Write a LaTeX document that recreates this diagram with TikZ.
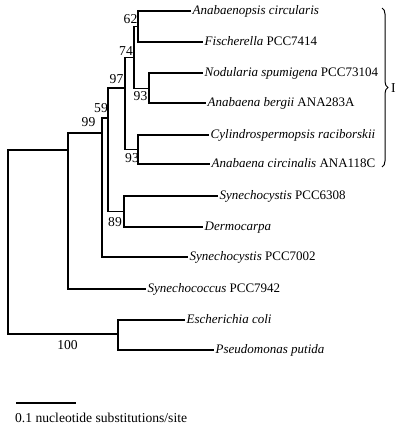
\documentclass[tikz,border=0pt]{standalone}
\usepackage{fontspec}
\setmainfont{Liberation Serif}
\usetikzlibrary{decorations.pathreplacing}
\begin{document}
\begin{tikzpicture}[x=1pt,y=-1pt,
  br/.style={line width=1.25pt},
  tip/.style={anchor=base west, yshift=-3.6pt, inner xsep=1.5pt, inner ysep=0pt, font=\fontsize{13}{16}\selectfont},
  bs/.style={inner sep=0pt, font=\fontsize{13.6}{16}\selectfont}]
\useasboundingbox (0,0) rectangle (400,428);
% internal nodes
\coordinate (root) at (8,242);
\coordinate (pCy) at (68,150);
\coordinate (pEP) at (118,334);
\coordinate (p99) at (102,133);
\coordinate (p59) at (108,118);
\coordinate (p97) at (125,88);
\coordinate (p74) at (134,57.5);
\coordinate (p62) at (138,26.5);
\coordinate (p93a) at (149,88.5);
\coordinate (p93b) at (138,149.5);
\coordinate (p89) at (124,211.5);
% tip ends
\coordinate (tA) at (191,11);
\coordinate (tB) at (203,42);
\coordinate (tC) at (203,73);
\coordinate (tD) at (206,103);
\coordinate (tE) at (209,135);
\coordinate (tF) at (210,164);
\coordinate (tG) at (218,196);
\coordinate (tH) at (203,227);
\coordinate (tI) at (188,257);
\coordinate (tJ) at (146,289);
\coordinate (tK) at (185,320);
\coordinate (tL) at (214,350);
% tip labels
\node[tip] (A) at (tA) {\textit{Anabaenopsis circularis}};
\node[tip] (B) at (tB) {\textit{Fischerella} PCC7414};
\node[tip] (C) at (tC) {\textit{Nodularia spumigena} PCC73104};
\node[tip] (D) at (tD) {\textit{Anabaena bergii} ANA283A};
\node[tip] (E) at (tE) {\textit{Cylindrospermopsis raciborskii}};
\node[tip] (F) at (tF) {\textit{Anabaena circinalis} ANA118C};
\node[tip] (G) at (tG) {\textit{Synechocystis} PCC6308};
\node[tip] (H) at (tH) {\textit{Dermocarpa}};
\node[tip] (I) at (tI) {\textit{Synechocystis} PCC7002};
\node[tip] (J) at (tJ) {\textit{Synechococcus} PCC7942};
\node[tip] (K) at (tK) {\textit{Escherichia coli}};
\node[tip] (L) at (tL) {\textit{Pseudomonas putida}};
% branches
\draw[br] (root) |- (pCy);
\draw[br] (root) |- (pEP);
\draw[br] (pEP) |- (tK);
\draw[br] (pEP) |- (tL);
\draw[br] (pCy) |- (p99);
\draw[br] (pCy) |- (tJ);
\draw[br] (p99) |- (p59);
\draw[br] (p99) |- (tI);
\draw[br] (p59) |- (p97);
\draw[br] (p59) |- (p89);
\draw[br] (p89) |- (tG);
\draw[br] (p89) |- (tH);
\draw[br] (p97) |- (p74);
\draw[br] (p97) |- (p93b);
\draw[br] (p93b) |- (tE);
\draw[br] (p93b) |- (tF);
\draw[br] (p74) |- (p62);
\draw[br] (p74) |- (p93a);
\draw[br] (p62) |- (tA);
\draw[br] (p62) |- (tB);
\draw[br] (p93a) |- (tC);
\draw[br] (p93a) |- (tD);
% bootstrap values
\node[bs] (b62) at (130.5,19) {62};
\node[bs] (b74) at (126,51.5) {74};
\node[bs] (b97) at (116.5,79) {97};
\node[bs] (b59) at (101,108.5) {59};
\node[bs] (b99) at (88.5,122.5) {99};
\node[bs] (b93a) at (140.5,96.5) {93};
\node[bs] (b93b) at (132,158) {93};
\node[bs] (b89) at (115,222.5) {89};
\node[bs] (b100) at (67.5,345.5) {100};
% brace
\coordinate (brT) at (382,8);
\coordinate (brB) at (382,167);
\draw[line width=1pt, decorate, decoration={brace, amplitude=6pt}] (brT) -- (brB);
\node[bs, anchor=west] (grpI) at (391,88) {I};
% scale bar
\coordinate (s1) at (16,403);
\coordinate (s2) at (76,403);
\draw[br] (s1) -- (s2);
\node[bs, anchor=base west] (scale) at (15,422) {0.1 nucleotide substitutions/site};
\end{tikzpicture}
\end{document}
